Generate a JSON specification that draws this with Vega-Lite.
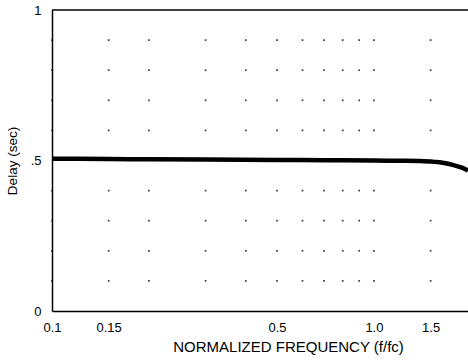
{
  "$schema": "https://vega.github.io/schema/vega-lite/v6.json",
  "autosize": "none",
  "width": 416,
  "height": 301,
  "padding": {"left": 52, "top": 10, "right": 0, "bottom": 49},
  "background": "white",
  "config": {
    "view": {"stroke": null},
    "font": "Liberation Sans",
    "axis": {"labelFont": "Liberation Sans", "titleFont": "Liberation Sans", "labelColor": "black", "titleColor": "black", "titleFontWeight": "normal", "grid": false, "ticks": false, "domainColor": "black", "domainWidth": 1.5}
  },
  "datasets": {
    "curve": [
      {"f": 0.1, "d": 0.506},
      {"f": 0.15, "d": 0.505},
      {"f": 0.2, "d": 0.504},
      {"f": 0.3, "d": 0.503},
      {"f": 0.5, "d": 0.502},
      {"f": 0.7, "d": 0.501},
      {"f": 1.0, "d": 0.5},
      {"f": 1.2, "d": 0.499},
      {"f": 1.4, "d": 0.498},
      {"f": 1.5, "d": 0.497},
      {"f": 1.6, "d": 0.494},
      {"f": 1.7, "d": 0.489},
      {"f": 1.8, "d": 0.482},
      {"f": 1.9, "d": 0.474},
      {"f": 1.96, "d": 0.467}
    ],
    "grid": [
      {"f": 0.1, "d": [0.1, 0.2, 0.3, 0.4, 0.6, 0.7, 0.8, 0.9]},
      {"f": 0.15, "d": [0.1, 0.2, 0.3, 0.4, 0.6, 0.7, 0.8, 0.9]},
      {"f": 0.2, "d": [0.1, 0.2, 0.3, 0.4, 0.6, 0.7, 0.8, 0.9]},
      {"f": 0.3, "d": [0.1, 0.2, 0.3, 0.4, 0.6, 0.7, 0.8, 0.9]},
      {"f": 0.4, "d": [0.1, 0.2, 0.3, 0.4, 0.6, 0.7, 0.8, 0.9]},
      {"f": 0.5, "d": [0.1, 0.2, 0.3, 0.4, 0.6, 0.7, 0.8, 0.9]},
      {"f": 0.6, "d": [0.1, 0.2, 0.3, 0.4, 0.6, 0.7, 0.8, 0.9]},
      {"f": 0.7, "d": [0.1, 0.2, 0.3, 0.4, 0.6, 0.7, 0.8, 0.9]},
      {"f": 0.8, "d": [0.1, 0.2, 0.3, 0.4, 0.6, 0.7, 0.8, 0.9]},
      {"f": 0.9, "d": [0.1, 0.2, 0.3, 0.4, 0.6, 0.7, 0.8, 0.9]},
      {"f": 1.0, "d": [0.1, 0.2, 0.3, 0.4, 0.6, 0.7, 0.8, 0.9]},
      {"f": 1.5, "d": [0.1, 0.2, 0.3, 0.4, 0.6, 0.7, 0.8, 0.9]}
    ]
  },
  "layer": [
    {
      "data": {"name": "grid"},
      "transform": [{"flatten": ["d"]}],
      "mark": {"type": "square", "size": 3, "color": "black", "opacity": 0.75},
      "encoding": {
        "x": {"field": "f", "type": "quantitative", "scale": {"type": "log", "domain": [0.1, 1.96], "nice": false},
          "axis": {"values": [0.1, 0.15, 0.5, 1.0, 1.5], "labelExpr": "datum.value == 1 ? '1.0' : datum.label", "format": ".2~f", "labelFontSize": 13, "labelPadding": 10, "labelFlush": false, "labelOverlap": false, "title": "NORMALIZED FREQUENCY (f/fc)", "titleFontSize": 15, "titlePadding": 5, "titleX": 236}},
        "y": {"field": "d", "type": "quantitative", "scale": {"domain": [0, 1], "nice": false},
          "axis": {"values": [0, 0.5, 1], "labelExpr": "datum.value == 0.5 ? '.5' : (datum.value == 1 ? '1' : '0')", "labelFontSize": 13, "labelPadding": 11, "labelFlush": false, "title": "Delay (sec)", "titleFontSize": 13.5, "titlePadding": 11}}
      }
    },
    {
      "data": {"values": [{"d": 1}]},
      "mark": {"type": "rule", "color": "black", "strokeWidth": 1.5},
      "encoding": {"y": {"field": "d", "type": "quantitative"}}
    },
    {
      "data": {"name": "curve"},
      "mark": {"type": "line", "color": "black", "strokeWidth": 4.5, "interpolate": "monotone"},
      "encoding": {
        "x": {"field": "f", "type": "quantitative"},
        "y": {"field": "d", "type": "quantitative"}
      }
    }
  ]
}
